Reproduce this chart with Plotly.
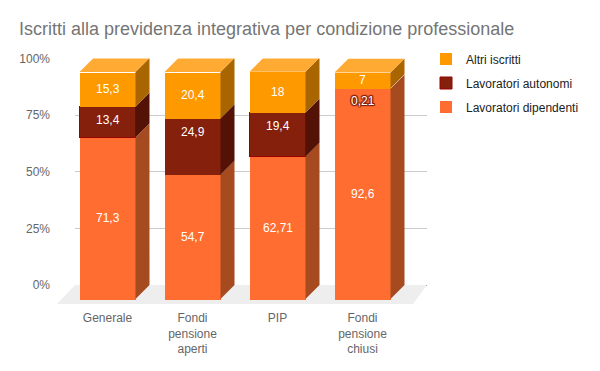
import plotly.graph_objects as go

categories = ["Generale", "Fondi<br>pensione<br>aperti", "PIP", "Fondi<br>pensione<br>chiusi"]
series_names = ["Lavoratori dipendenti", "Lavoratori autonomi", "Altri iscritti"]
dipendenti = [71.3, 54.7, 62.71, 92.6]
autonomi = [13.4, 24.9, 19.4, 0.21]
altri = [15.3, 20.4, 18, 7]
labels_dip = ["71,3", "54,7", "62,71", "92,6"]
labels_aut = ["13,4", "24,9", "19,4", "0,21"]
labels_alt = ["15,3", "20,4", "18", "7"]
y_ticks = [0, 25, 50, 75, 100]
y_ticktext = ["0%", "25%", "50%", "75%", "100%"]

FRONT = ["#FF6D31", "#85200C", "#FF9900"]
SIDE = ["#A64A20", "#541206", "#A86500"]
TOP = "#FFAB33"
W, H = 600, 371
SLOT = 85.0            # px per category
PXY = 2.27             # px per percent
DEPTH = 14.0           # px
BAR_W = 56 / SLOT
DX, DY = DEPTH / SLOT, DEPTH / PXY
X0_PX, Y0_PX = 107.5, 299.0      # front origin
L, R, T, B = 57.0, 427.0, 58.5, 304.0
# label nudges in px (the source does not centre every label in its segment)
LABEL_SHIFT = [[0, 0, 0, 0], [2, 15, 9, -12], [0, 0, 0, 0]]

xr2 = [(L - X0_PX) / SLOT, (R - X0_PX) / SLOT]
yr2 = [(Y0_PX - B) / PXY, (Y0_PX - T) / PXY]

fig = go.Figure()
# back plane: grid and y ticks
fig.add_trace(go.Scatter(x=[0, 1], y=[0, 100], xaxis="x", yaxis="y", mode="none",
                         showlegend=False, hoverinfo="skip"))

xs = list(range(len(categories)))
stack = [dipendenti, autonomi, altri]
labels = [labels_dip, labels_aut, labels_alt]

# floor (below all traces)
fx = [xr2[0], xr2[1] - DX, xr2[1], xr2[0] + DX * 1.29]
fy = [yr2[0], yr2[0], DY, DY]
floor_path = "M" + " L".join(f"{a},{b}" for a, b in zip(fx, fy)) + " Z"
fig.add_shape(type="path", path=floor_path, xref="x2", yref="y2", layer="below",
              fillcolor="#EEEEEE", line=dict(width=0))

bases = [0.0] * len(xs)
for k, vals in enumerate(stack):
    px_, py_ = [], []
    for i, v in enumerate(vals):
        lo, hi = bases[i], bases[i] + v
        xr = xs[i] + BAR_W / 2
        px_ += [xr, xr + DX, xr + DX, xr, xr, None]
        py_ += [lo, lo + DY, hi + DY, hi, lo, None]
    fig.add_trace(go.Scatter(x=px_, y=py_, xaxis="x2", yaxis="y2", mode="lines", fill="toself",
                             fillcolor=SIDE[k], line=dict(width=0), showlegend=False, hoverinfo="skip"))
    bases = [b + v for b, v in zip(bases, vals)]

# top faces
tx, ty = [], []
for i, t in enumerate(bases):
    xl, xr = xs[i] - BAR_W / 2, xs[i] + BAR_W / 2
    tx += [xl, xr, xr + DX, xl + DX, xl, None]
    ty += [t, t, t + DY, t + DY, t, None]
fig.add_trace(go.Scatter(x=tx, y=ty, xaxis="x2", yaxis="y2", mode="lines", fill="toself",
                         fillcolor=TOP, line=dict(width=0), showlegend=False, hoverinfo="skip"))

# front faces
for k, vals in enumerate(stack):
    line = dict(width=[0, 0, 0, 0], color="#990000")
    if k == 1:
        line = dict(width=[1, 0, 1, 1], color="#990000")
    fig.add_trace(go.Bar(
        x=xs, y=vals, name=series_names[k], xaxis="x2", yaxis="y2",
        marker=dict(color=FRONT[k], line=line), width=BAR_W,
        legendgroup=series_names[k], legendrank=3 - k, hoverinfo="skip"))

# value labels
HALO = ("1px 0 0 #85200C, -1px 0 0 #85200C, 0 1px 0 #85200C, 0 -1px 0 #85200C, "
        "1px 1px 1px #85200C, -1px -1px 1px #85200C, 1px -1px 1px #85200C, -1px 1px 1px #85200C")
lo_vals = [0.0] * len(xs)
for k, vals in enumerate(stack):
    for i, v in enumerate(vals):
        shadow = HALO if labels[k][i] == "0,21" else "none"
        fig.add_annotation(x=xs[i], y=lo_vals[i] + v / 2, xref="x2", yref="y2", text=labels[k][i],
                           showarrow=False, yshift=LABEL_SHIFT[k][i],
                           font=dict(color="#FFFFFF", size=12, family="Liberation Sans", shadow=shadow))
        lo_vals[i] += v

fig.update_layout(
    width=W, height=H, margin=dict(l=0, r=0, t=0, b=0, autoexpand=False), barmode="stack", bargap=0,
    paper_bgcolor="white", plot_bgcolor="rgba(0,0,0,0)",
    font=dict(family="Liberation Sans", size=12, color="#666666"),
    title=dict(text="Iscritti alla previdenza integrativa per condizione professionale",
               x=19 / W, xanchor="left", y=1 - 29 / H, yanchor="middle", xref="paper", yref="paper",
               font=dict(size=18, color="#757575", family="Liberation Sans")),
    legend=dict(x=432 / W, y=1 - 44.5 / H, xanchor="left", yanchor="top", traceorder="grouped",
                tracegroupgap=5, indentation=-6, font=dict(size=12, color="#222222"), bgcolor="rgba(0,0,0,0)",
                itemclick=False, itemdoubleclick=False),
    xaxis=dict(domain=[75 / W, R / W], range=[0, 1], showticklabels=False, showgrid=False,
               zeroline=False, ticks="", fixedrange=True, showline=True, linecolor="#333333", linewidth=1),
    yaxis=dict(domain=[1 - 285 / H, 1 - T / H], range=[0, 100], tickvals=y_ticks, ticktext=y_ticktext,
               gridcolor="#CCCCCC", gridwidth=1, zeroline=False,
               ticks="", ticklabelstandoff=24, tickfont=dict(size=12, color="#666666"), fixedrange=True,
               showline=False),
    xaxis2=dict(domain=[L / W, R / W], range=xr2, tickvals=xs, ticktext=categories, showgrid=False,
                zeroline=False, ticks="", anchor="y2", ticklabelstandoff=5,
                tickfont=dict(size=12, color="#666666"), fixedrange=True),
    yaxis2=dict(domain=[1 - B / H, 1 - T / H], range=yr2, visible=False, anchor="x2", fixedrange=True),
)

fig.write_html("out.html", config=dict(displayModeBar=False),
               post_script="document.body.style.margin='0';")
